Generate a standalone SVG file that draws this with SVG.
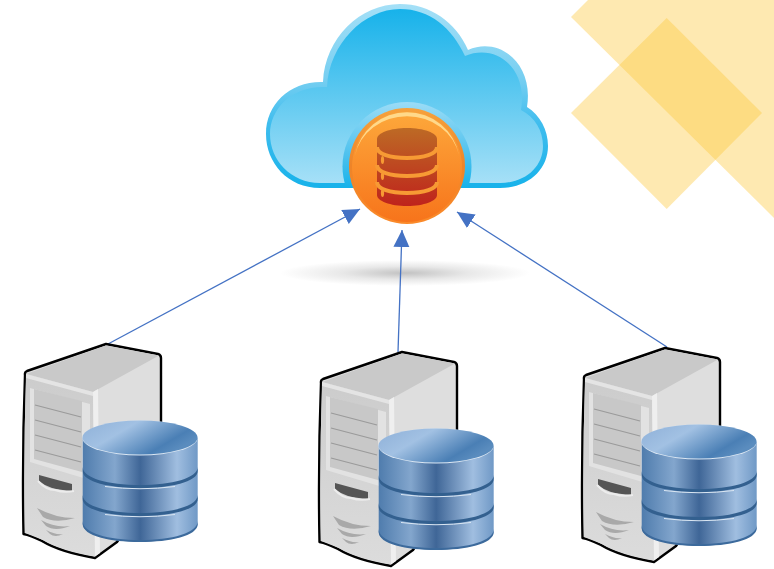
<svg xmlns="http://www.w3.org/2000/svg" width="774" height="569" viewBox="0 0 774 569">
<style>
.deco{fill:#fdc83c;fill-opacity:.4}
.link{stroke:#4472c4;stroke-width:1.300;fill:none;marker-end:url(#arrow)}
.band{fill:none;stroke:#f79a34;stroke-width:4}
</style>
<defs>
<marker id="arrow" markerUnits="userSpaceOnUse" markerWidth="18" markerHeight="18" refX="17" refY="9" orient="auto"><path d="M0 1L17 9L0 17Z" fill="#4472c4"/></marker>
<linearGradient id="cloudFill" x1="0" y1="0" x2="0" y2="1"><stop offset="0" stop-color="#17b2ea"/><stop offset="1" stop-color="#a6e0f7"/></linearGradient>
<linearGradient id="cloudEdge" gradientUnits="userSpaceOnUse" x1="0" y1="4" x2="0" y2="188"><stop offset="0" stop-color="#a5e0f7"/><stop offset=".4" stop-color="#78cff1"/><stop offset=".65" stop-color="#3fbdee"/><stop offset="1" stop-color="#17b2ea"/></linearGradient>
<linearGradient id="haloFill" gradientUnits="userSpaceOnUse" x1="0" y1="102" x2="0" y2="188"><stop offset="0" stop-color="#9bdcf6"/><stop offset=".6" stop-color="#4fc2ee"/><stop offset="1" stop-color="#17b2ea"/></linearGradient>
<clipPath id="haloClip"><rect x="330" y="90" width="160" height="98"/></clipPath>
<linearGradient id="ball" x1="0" y1="0" x2="0" y2="1"><stop offset="0" stop-color="#fda83b"/><stop offset="1" stop-color="#f7741b"/></linearGradient>
<linearGradient id="ballEdge" x1="0" y1="0" x2="0" y2="1"><stop offset="0" stop-color="#f6a23c"/><stop offset=".5" stop-color="#ee8428"/><stop offset="1" stop-color="#fb8a2a"/></linearGradient>
<linearGradient id="can" x1="0" y1="0" x2="0" y2="1"><stop offset="0" stop-color="#bd6a25"/><stop offset="1" stop-color="#bf231c"/></linearGradient>
<radialGradient id="shadow"><stop offset="0" stop-color="#c2c2c2"/><stop offset=".5" stop-color="#e8e8e8"/><stop offset="1" stop-color="#fff"/></radialGradient>
<linearGradient id="dbSide" x1="0" y1="0" x2="1" y2="0"><stop offset="0" stop-color="#4f7cad"/><stop offset=".28" stop-color="#83a6cd"/><stop offset=".5" stop-color="#3f6697"/><stop offset=".82" stop-color="#a0bee0"/><stop offset="1" stop-color="#7099c6"/></linearGradient>
<linearGradient id="dbTop" x1="0" y1="0" x2="1" y2=".5"><stop offset="0" stop-color="#8eb0d8"/><stop offset=".4" stop-color="#a2c1e3"/><stop offset=".85" stop-color="#4a7fb5"/><stop offset="1" stop-color="#5a8cbe"/></linearGradient>
<linearGradient id="front" x1="0" y1="0" x2="0" y2="1"><stop offset="0" stop-color="#cccccc"/><stop offset="1" stop-color="#dcdcdc"/></linearGradient>
<g id="serverArt">
<path d="M106 344L158 354Q161 355 161 358L161 480L117 542L95 558Q60 552 42 541Q30 535 23.500 534Q22 455 25 375Q24.500 372 27 371Z" fill="#dedede" stroke="#000" stroke-width="2.400" stroke-linejoin="round"/>
<path d="M106 345.500L159 355.500L93 392L26 374Z" fill="#c9c9c9"/>
<path d="M26 374L93 392L95 556.500Q60 550 43 540L25 533Q23.500 455 26 374Z" fill="url(#front)"/>
<path d="M26 374L93 392L93 396L26 378Z" fill="#e4e4e4"/>
<path d="M93 392L98 389L100 553L95 556.500Z" fill="#efefef"/>
<path d="M30 388L90 404L90 480L30 462Z" fill="#e2e2e2"/>
<path d="M34 389L82 401L82 472L34 459Z" fill="#c8c8c8"/>
<path d="M35 405L81 417M35 420L81 432M35 435L81 447M35 450L81 462" stroke="#9a9a9a" stroke-width="1.200" fill="none"/>
<path d="M39 475L72 484L72 491Q60 490 52 488Q45 486 39 481Z" fill="#555"/>
<path d="M38 481Q46 490 55 490Q64 493 74 491" stroke="#ececec" stroke-width="2" fill="none"/>
<path d="M37 508Q55 518 75 518Q55 524 43 517ZM41 520Q55 528 70 526Q55 532 46 526ZM46 530Q55 535 63 534Q55 538 50 534Z" fill="#a9a9a9"/>
<path d="M82.700 438V524C82.700 534 108 541.700 140 541.700S197.700 534 197.700 524V438Z" fill="url(#dbSide)"/>
<path d="M82.700 467C82.700 478 108 485 140 485S197.700 478 197.700 467V471C197.700 482 170 488 140 488S82.700 482 82.700 471Z" fill="#33608f"/>
<path d="M82.700 495C82.700 506 108 513 140 513S197.700 506 197.700 495V499C197.700 510 170 516 140 516S82.700 510 82.700 499Z" fill="#33608f"/>
<path d="M105 486.500Q140 491 175 486.500M105 514.500Q140 519 175 514.500" stroke="#dbe7f3" stroke-width="1" fill="none"/>
<path d="M82.700 521C82.700 533 108 540 140 540S197.700 533 197.700 521V524C197.700 536 170 542 140 542S82.700 536 82.700 524Z" fill="#3c6a9c"/>
<ellipse cx="140" cy="438" rx="57.500" ry="17.500" fill="#dbe7f3"/>
<ellipse cx="140" cy="437.500" rx="57.500" ry="17" fill="url(#dbTop)"/>
</g>
</defs>
<rect width="774" height="569" fill="#fff"/>
<path class="deco" d="M571 17L588 0H774V218Z"/>
<path class="deco" d="M666.700 18L762 113L666.700 209L571 113Z"/>
<ellipse cx="405" cy="273" rx="125" ry="13" fill="url(#shadow)"/>
<g id="connectors">
<path class="link" d="M108 344L360 209"/>
<path class="link" d="M398 352L402 230"/>
<path class="link" d="M667 347L457 212"/>
</g>
<g id="cloud">
<path d="M323 82C325 38 360 4 400 4C430 4 456 22 468 50C500 36 534 64 527 107C540 115 548 130 548 146C548 170 528 188 500 188H320C288 188 266 163 266 134C266 104 290 81 323 82Z" fill="url(#cloudEdge)"/>
<path d="M327 87C329 44 364 9 400 9C430 9 452 28 465 56C496 43 528 68 521 110C535 117 543 131 543 146C543 167 525 183 500 183H320C291 183 270 160 270 134C270 108 293 85 327 87Z" fill="url(#cloudFill)"/>
<circle cx="407" cy="166.500" r="64.500" fill="url(#haloFill)" clip-path="url(#haloClip)"/>
</g>
<g id="cloud-database">
<circle cx="407" cy="166" r="58" fill="url(#ballEdge)"/>
<circle cx="407" cy="167" r="55" fill="url(#ball)"/>
<path d="M355 155A53 53 0 0 1 459 155A53 48 0 0 0 355 155Z" fill="#ffd98a"/>
<path d="M377 139C377 133 390 128 407 128S437 133 437 139V195C437 201 424 206 407 206S377 201 377 195Z" fill="url(#can)"/>
<path class="band" d="M377 147C377 154 390 158 407 158S437 154 437 147M377 165C377 172 390 176 407 176S437 172 437 165M377 182C377 189 390 193 407 193S437 189 437 182"/>
<ellipse cx="382.500" cy="160" rx="1.600" ry="4" fill="#f79a34"/>
<ellipse cx="382.500" cy="176" rx="1.600" ry="4" fill="#f79a34"/>
<ellipse cx="382.500" cy="193" rx="1.600" ry="4" fill="#f79a34"/>
</g>
<g id="server-1"><use href="#serverArt"/></g>
<g id="server-2"><use href="#serverArt" transform="translate(296 8)"/></g>
<g id="server-3"><use href="#serverArt" transform="translate(559 4)"/></g>
</svg>
